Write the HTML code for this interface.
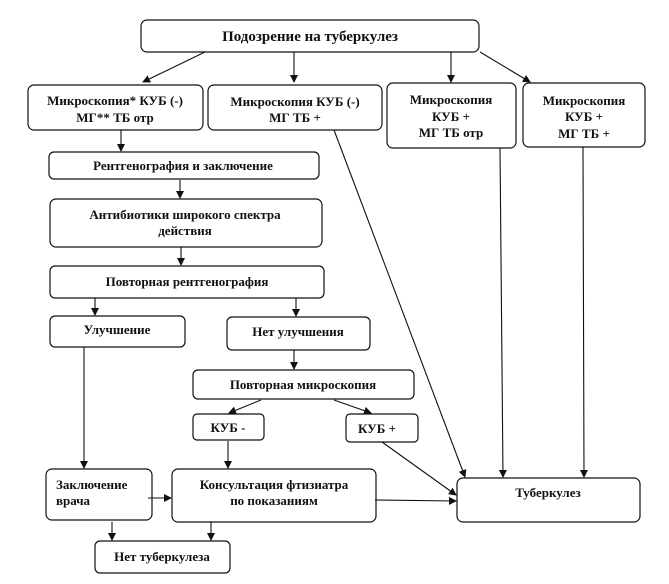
<!DOCTYPE html>
<html><head><meta charset="utf-8"><style>
html,body{margin:0;padding:0;background:#fff}
svg text{font-family:"Liberation Serif",serif;font-weight:bold;font-size:13px;fill:#111}
</style></head><body>
<svg width="669" height="579" viewBox="0 0 669 579" xmlns="http://www.w3.org/2000/svg">
<defs><marker id="a" markerWidth="8" markerHeight="8" refX="7" refY="4" orient="auto" markerUnits="userSpaceOnUse"><path d="M0,0 L8,4 L0,8 z" fill="#111"/></marker></defs>
<g fill="#fff" stroke="#111" stroke-width="1.2">
<rect x="141" y="20" width="338" height="32" rx="6"/>
<rect x="28" y="85" width="175" height="45" rx="6"/>
<rect x="208" y="85" width="174" height="45" rx="6"/>
<rect x="387" y="83" width="129" height="65" rx="6"/>
<rect x="523" y="83" width="122" height="64" rx="6"/>
<rect x="49" y="152" width="270" height="27" rx="5"/>
<rect x="50" y="199" width="272" height="48" rx="6"/>
<rect x="50" y="266" width="274" height="32" rx="5"/>
<rect x="50" y="316" width="135" height="31" rx="5"/>
<rect x="227" y="317" width="143" height="33" rx="5"/>
<rect x="193" y="370" width="221" height="29" rx="5"/>
<rect x="193" y="414" width="71" height="26" rx="4"/>
<rect x="346" y="414" width="72" height="28" rx="4"/>
<rect x="46" y="469" width="106" height="51" rx="6"/>
<rect x="172" y="469" width="204" height="53" rx="6"/>
<rect x="457" y="478" width="183" height="44" rx="6"/>
<rect x="95" y="541" width="135" height="32" rx="5"/>
</g>
<g stroke="#111" stroke-width="1.1" marker-end="url(#a)" fill="none">
<line x1="205" y1="52" x2="143" y2="82"/>
<line x1="294" y1="52" x2="294" y2="82"/>
<line x1="451" y1="52" x2="451" y2="82"/>
<line x1="480" y1="52" x2="530" y2="82"/>
<line x1="121" y1="130" x2="121" y2="151"/>
<line x1="180" y1="180" x2="180" y2="198"/>
<line x1="181" y1="247" x2="181" y2="265"/>
<line x1="95" y1="298" x2="95" y2="315"/>
<line x1="296" y1="298" x2="296" y2="316"/>
<line x1="84" y1="347" x2="84" y2="468"/>
<line x1="294" y1="350" x2="294" y2="369"/>
<line x1="261" y1="400" x2="229" y2="413"/>
<line x1="334" y1="400" x2="371" y2="413"/>
<line x1="228" y1="441" x2="228" y2="468"/>
<line x1="382" y1="442" x2="456" y2="495"/>
<line x1="334" y1="130" x2="465" y2="477"/>
<line x1="500" y1="148" x2="503" y2="477"/>
<line x1="583" y1="147" x2="584" y2="477"/>
<line x1="148" y1="498" x2="171" y2="498"/>
<line x1="375" y1="500" x2="456" y2="501"/>
<line x1="112" y1="522" x2="112" y2="540"/>
<line x1="211" y1="522" x2="211" y2="540"/>
</g>
<g text-anchor="middle">
<text x="310" y="41" style="font-size:15px">Подозрение на туберкулез</text>
<text x="115" y="105">Микроскопия* КУБ (-)</text>
<text x="115" y="122">МГ** ТБ отр</text>
<text x="295" y="106">Микроскопия КУБ (-)</text>
<text x="295" y="122">МГ ТБ +</text>
<text x="451" y="104">Микроскопия</text>
<text x="451" y="121">КУБ +</text>
<text x="451" y="137">МГ ТБ отр</text>
<text x="584" y="105">Микроскопия</text>
<text x="584" y="121">КУБ +</text>
<text x="584" y="138">МГ ТБ +</text>
<text x="183" y="170">Рентгенография и заключение</text>
<text x="185" y="219">Антибиотики широкого спектра</text>
<text x="185" y="235">действия</text>
<text x="187" y="286">Повторная рентгенография</text>
<text x="117" y="334">Улучшение</text>
<text x="298" y="336">Нет улучшения</text>
<text x="303" y="389">Повторная микроскопия</text>
<text x="228" y="432">КУБ -</text>
<text x="377" y="433">КУБ +</text>
<text x="274" y="489">Консультация фтизиатра</text>
<text x="274" y="505">по показаниям</text>
<text x="548" y="497">Туберкулез</text>
<text x="162" y="561">Нет туберкулеза</text>
</g>
<text x="56" y="489">Заключение</text>
<text x="56" y="505">врача</text>
</svg>
</body></html>
